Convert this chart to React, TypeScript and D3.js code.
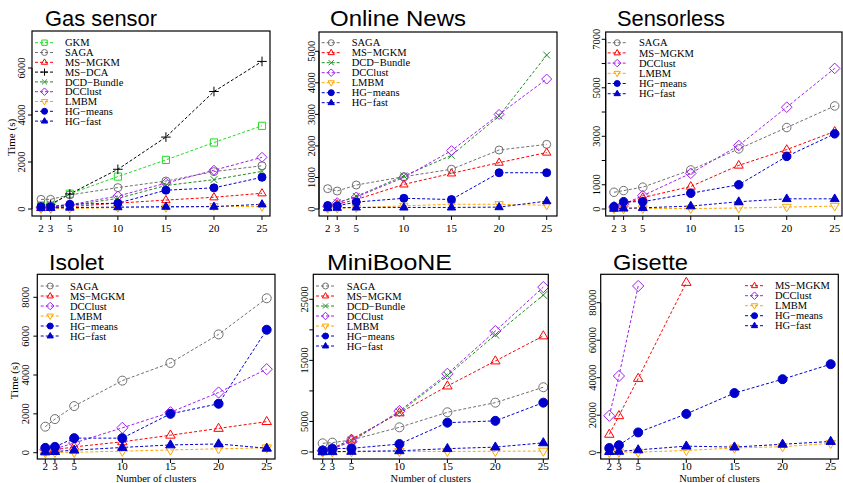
import React from 'react'
import * as d3 from 'd3'

// number of clusters on the x axis
const clusters = [2, 3, 5, 10, 15, 20, 25]
const xTickLabels = ['2', '3', '5', '10', '15', '20', '25']

// Gas sensor, time in seconds
const gasGKM = [150, 150, 650, 1380, 2090, 2830, 3540]
const gasSAGA = [410, 410, 600, 910, 1190, 1590, 1840]
const gasMSMGKM = [50, 50, 100, 250, 380, 500, 670]
const gasMSDCA = [80, 200, 640, 1690, 3060, 5000, 6280]
const gasDCDBundle = [50, 60, 150, 450, 1000, 1250, 1600]
const gasDCClust = [50, 60, 180, 550, 1100, 1650, 2200]
const gasLMBM = [10, 10, 20, 60, 60, 120, 100]
const gasHGmeans = [100, 100, 200, 250, 800, 900, 1350]
const gasHGfast = [50, 50, 60, 80, 100, 100, 200]

// Online News
const newsSAGA = [645, 570, 760, 1025, 1260, 1870, 2050]
const newsMSMGKM = [50, 150, 300, 780, 1130, 1470, 1790]
const newsDCDBundle = [80, 200, 400, 1050, 1700, 2950, 4880]
const newsDCClust = [80, 200, 380, 1000, 1850, 3000, 4120]
const newsLMBM = [10, 20, 40, 100, 150, 150, 120]
const newsHGmeans = [110, 100, 220, 340, 300, 1150, 1150]
const newsHGfast = [30, 40, 50, 50, 50, 60, 250]

// Sensorless
const sensSAGA = [690, 760, 900, 1610, 2480, 3360, 4250]
const sensMSMGKM = [100, 200, 470, 930, 1800, 2450, 3200]
const sensDCClust = [80, 200, 550, 1470, 2620, 4200, 5800]
const sensLMBM = [10, 10, 20, 20, 40, 80, 120]
const sensHGmeans = [100, 300, 300, 650, 1000, 2170, 3100]
const sensHGfast = [20, 30, 50, 120, 300, 420, 420]

// Isolet
const isoSAGA = [1340, 1730, 2400, 3710, 4620, 6090, 7950]
const isoMSMGKM = [100, 150, 300, 560, 900, 1250, 1600]
const isoDCClust = [150, 200, 500, 1280, 2080, 3100, 4300]
const isoLMBM = [10, 20, 20, 80, 140, 200, 250]
const isoHGmeans = [250, 300, 750, 750, 2000, 2520, 6330]
const isoHGfast = [40, 60, 130, 270, 400, 450, 230]

// MiniBooNE
const mbSAGA = [1420, 1530, 1970, 4040, 6500, 8080, 10600]
const mbMSMGKM = [100, 600, 2100, 6400, 10800, 14900, 19000]
const mbDCDBundle = [200, 500, 1900, 6500, 12500, 19200, 25700]
const mbDCClust = [200, 500, 1700, 6700, 12800, 19800, 27000]
const mbLMBM = [20, 30, 50, 80, 100, 120, 150]
const mbHGmeans = [250, 550, 600, 1300, 4800, 5100, 8080]
const mbHGfast = [30, 50, 100, 200, 550, 800, 1500]

// Gisette (MS-MGKM and DCClust stop early)
const gisMSMGKM = [9800, 19700, 39600, 90800]
const gisDCClust = [19700, 40900, 88900]
const gisLMBM = [200, 300, 300, 1200, 2500, 3200, 5000]
const gisHGmeans = [2500, 4000, 10800, 20700, 31800, 39200, 47200]
const gisHGfast = [600, 700, 1500, 3500, 3000, 4500, 6000]

type Shape = 'square' | 'circle' | 'triangle' | 'plus' | 'cross' | 'diamond' | 'down'
const methodStyle: Record<string, { color: string; shape: Shape; filled?: boolean }> = {
  'GKM': { color: '#1fdc1f', shape: 'square' },
  'SAGA': { color: '#707070', shape: 'circle' },
  'MS−MGKM': { color: '#ff0000', shape: 'triangle' },
  'MS−DCA': { color: '#000000', shape: 'plus' },
  'DCD−Bundle': { color: '#228b22', shape: 'cross' },
  'DCClust': { color: '#a020f0', shape: 'diamond' },
  'LMBM': { color: '#ffa500', shape: 'down' },
  'HG−means': { color: '#0000cd', shape: 'circle', filled: true },
  'HG−fast': { color: '#0000cd', shape: 'triangle', filled: true },
}

function Marker({ x, y, name, size }: { x: number; y: number; name: string; size: number }) {
  const st = methodStyle[name]
  const h = size / 2
  const fill = st.filled ? st.color : 'none'
  let d = ''
  switch (st.shape) {
    case 'circle':
      return <circle cx={x} cy={y} r={h} fill={fill} stroke={st.color} strokeWidth={1} />
    case 'square':
      d = `M${x - h * 0.9},${y - h * 0.9}h${h * 1.8}v${h * 1.8}h${-h * 1.8}Z`
      break
    case 'triangle':
      d = `M${x},${y - h * 1.15}L${x + h * 1.05},${y + h * 0.65}L${x - h * 1.05},${y + h * 0.65}Z`
      break
    case 'down':
      d = `M${x},${y + h * 1.15}L${x + h * 1.05},${y - h * 0.65}L${x - h * 1.05},${y - h * 0.65}Z`
      break
    case 'diamond':
      d = `M${x},${y - h * 1.25}L${x + h * 1.25},${y}L${x},${y + h * 1.25}L${x - h * 1.25},${y}Z`
      break
    case 'plus':
      d = `M${x - h * 1.2},${y}H${x + h * 1.2}M${x},${y - h * 1.2}V${y + h * 1.2}`
      break
    case 'cross':
      d = `M${x - h * 0.85},${y - h * 0.85}L${x + h * 0.85},${y + h * 0.85}M${x - h * 0.85},${y + h * 0.85}L${x + h * 0.85},${y - h * 0.85}`
      break
  }
  return <path d={d} fill={fill} stroke={st.color} strokeWidth={1} />
}

type PanelCfg = {
  title: string
  titleX: number
  titleY: number
  titleW: number
  box: [number, number, number, number]
  xr: [number, number]
  yZero: number
  yRef: [number, number] // value, pixel
  yTicks: number[]
  yLabels: number[]
  yLabelGap: number
  yTitle?: number
  xLabelY: number
  xTitle?: number
  legend: [number, number, number, number] // line x, first row y, text x, row step
  msize: number
  series: [string, number[]][]
}

const panels: PanelCfg[] = [
  {
    title: 'Gas sensor', titleX: 45, titleY: 26, titleW: 112,
    box: [32, 31, 270, 216], xr: [41, 262], yZero: 209, yRef: [6000, 68],
    yTicks: [0, 2000, 4000, 6000], yLabels: [0, 2000, 4000, 6000], yLabelGap: 7, yTitle: 15,
    xLabelY: 232, legend: [35, 42.7, 65, 9.8], msize: 8,
    series: [['GKM', gasGKM], ['SAGA', gasSAGA], ['MS−MGKM', gasMSMGKM], ['MS−DCA', gasMSDCA],
      ['DCD−Bundle', gasDCDBundle], ['DCClust', gasDCClust], ['LMBM', gasLMBM],
      ['HG−means', gasHGmeans], ['HG−fast', gasHGfast]],
  },
  {
    title: 'Online News', titleX: 330, titleY: 26, titleW: 136,
    box: [319, 32, 557, 216], xr: [327.7, 546.7], yZero: 209, yRef: [5000, 51.3],
    yTicks: [0, 1000, 2000, 3000, 4000, 5000], yLabels: [0, 1000, 2000, 3000, 4000, 5000], yLabelGap: 4.5,
    xLabelY: 232, legend: [321.7, 42.7, 351.7, 10], msize: 8,
    series: [['SAGA', newsSAGA], ['MS−MGKM', newsMSMGKM], ['DCD−Bundle', newsDCDBundle],
      ['DCClust', newsDCClust], ['LMBM', newsLMBM], ['HG−means', newsHGmeans], ['HG−fast', newsHGfast]],
  },
  {
    title: 'Sensorless', titleX: 617, titleY: 26, titleW: 108,
    box: [605.7, 32, 842, 216], xr: [614, 834.7], yZero: 209, yRef: [7000, 39.3],
    yTicks: [0, 1000, 2000, 3000, 4000, 5000, 6000, 7000], yLabels: [0, 1000, 3000, 5000, 7000], yLabelGap: 6,
    xLabelY: 232, legend: [607.7, 42.7, 639, 10.2], msize: 8.5,
    series: [['SAGA', sensSAGA], ['MS−MGKM', sensMSMGKM], ['DCClust', sensDCClust],
      ['LMBM', sensLMBM], ['HG−means', sensHGmeans], ['HG−fast', sensHGfast]],
  },
  {
    title: 'Isolet', titleX: 49, titleY: 270, titleW: 55,
    box: [37.3, 274.3, 275, 459], xr: [45.3, 266.7], yZero: 452.7, yRef: [8000, 297.3],
    yTicks: [0, 2000, 4000, 6000, 8000], yLabels: [0, 2000, 4000, 6000, 8000], yLabelGap: 8, yTitle: 18,
    xLabelY: 470, xTitle: 481.5, legend: [40.7, 286, 70, 10], msize: 9,
    series: [['SAGA', isoSAGA], ['MS−MGKM', isoMSMGKM], ['DCClust', isoDCClust],
      ['LMBM', isoLMBM], ['HG−means', isoHGmeans], ['HG−fast', isoHGfast]],
  },
  {
    title: 'MiniBooNE', titleX: 327, titleY: 270, titleW: 125,
    box: [313.3, 274.3, 548.3, 459], xr: [322.7, 543.3], yZero: 452, yRef: [25000, 299.3],
    yTicks: [0, 5000, 10000, 15000, 20000, 25000], yLabels: [0, 5000, 15000, 25000], yLabelGap: 5,
    xLabelY: 470, xTitle: 481.5, legend: [316, 286, 346.7, 10], msize: 9,
    series: [['SAGA', mbSAGA], ['MS−MGKM', mbMSMGKM], ['DCD−Bundle', mbDCDBundle], ['DCClust', mbDCClust],
      ['LMBM', mbLMBM], ['HG−means', mbHGmeans], ['HG−fast', mbHGfast]],
  },
  {
    title: 'Gisette', titleX: 613, titleY: 270, titleW: 75,
    box: [600.7, 274.3, 838.3, 459], xr: [609.3, 830.7], yZero: 452.7, yRef: [80000, 302.7],
    yTicks: [0, 20000, 40000, 60000, 80000], yLabels: [0, 20000, 40000, 60000, 80000], yLabelGap: 4.5,
    xLabelY: 470, xTitle: 481.5, legend: [745, 285.7, 775, 10], msize: 9,
    series: [['MS−MGKM', gisMSMGKM], ['DCClust', gisDCClust], ['LMBM', gisLMBM],
      ['HG−means', gisHGmeans], ['HG−fast', gisHGfast]],
  },
]

const serif = "'Liberation Serif', 'Times New Roman', Times, serif"

function Panel({ p }: { p: PanelCfg }) {
  const [x0, y0, x1, y1] = p.box
  const x = d3.scaleLinear().domain([2, 25]).range(p.xr)
  const y = d3.scaleLinear().domain([0, p.yRef[0]]).range([p.yZero, p.yRef[1]])
  const line = d3.line<[number, number]>().x(d => x(d[0])).y(d => y(d[1]))
  const [lx, ly, tx, step] = p.legend
  const clipId = 'clip' + p.title.replace(/\s/g, '')
  return (
    <g>
      <text x={p.titleX} y={p.titleY} fontFamily="'Liberation Sans', Arial, sans-serif" fontSize={22}
        textLength={p.titleW} lengthAdjust="spacingAndGlyphs">{p.title}</text>
      <defs>
        <clipPath id={clipId}>
          <rect x={x0} y={y0} width={x1 - x0} height={y1 - y0} />
        </clipPath>
      </defs>
      <g clipPath={`url(#${clipId})`}>
        {p.series.map(([name, vals]) => (
          <path key={name} d={line(vals.map((v, i) => [clusters[i], v] as [number, number])) || ''}
            fill="none" stroke={methodStyle[name].color} strokeWidth={1} strokeDasharray="3,2" />
        ))}
        {p.series.map(([name, vals]) =>
          vals.map((v, i) => <Marker key={name + i} x={x(clusters[i])} y={y(v)} name={name} size={p.msize} />))}
      </g>
      <rect x={x0} y={y0} width={x1 - x0} height={y1 - y0} fill="none" stroke="#000" strokeWidth={1.2} />
      {/* x axis */}
      {clusters.map((c, i) => (
        <g key={c}>
          <line x1={x(c)} x2={x(c)} y1={y1} y2={y1 + 4} stroke="#000" />
          <text x={x(c)} y={p.xLabelY} textAnchor="middle" fontFamily={serif} fontSize={11}>{xTickLabels[i]}</text>
        </g>
      ))}
      {p.xTitle && (
        <text x={(x0 + x1) / 2} y={p.xTitle} textAnchor="middle" fontFamily={serif} fontSize={10.5}>Number of clusters</text>
      )}
      {/* y axis */}
      <line x1={x0} x2={x0} y1={y(0)} y2={y(p.yTicks[p.yTicks.length - 1])} stroke="#000" />
      {p.yTicks.map(t => (
        <line key={t} x1={x0 - 4} x2={x0} y1={y(t)} y2={y(t)} stroke="#000" />
      ))}
      {p.yLabels.map(t => (
        <text key={t} transform={`translate(${x0 - p.yLabelGap},${y(t)}) rotate(-90)`} textAnchor="middle"
          fontFamily={serif} fontSize={10.5}>{t}</text>
      ))}
      {p.yTitle && (
        <text transform={`translate(${p.yTitle},${(y0 + y1) / 2 + 14}) rotate(-90)`} textAnchor="middle"
          fontFamily={serif} fontSize={11}>Time (s)</text>
      )}
      {/* legend */}
      {p.series.map(([name], i) => (
        <g key={name}>
          <line x1={lx} x2={lx + 19} y1={ly + i * step} y2={ly + i * step}
            stroke={methodStyle[name].color} strokeDasharray="3,2" />
          <Marker x={lx + 9.5} y={ly + i * step} name={name} size={6} />
          <text x={tx} y={ly + i * step + 3.6} fontFamily={serif} fontSize={10.5}>{name}</text>
        </g>
      ))}
    </g>
  )
}

export default function App() {
  return (
    <svg width={843} height={483} style={{ position: 'absolute', left: 0, top: 0, background: '#fff' }}>
      {panels.map(p => <Panel key={p.title} p={p} />)}
    </svg>
  )
}
